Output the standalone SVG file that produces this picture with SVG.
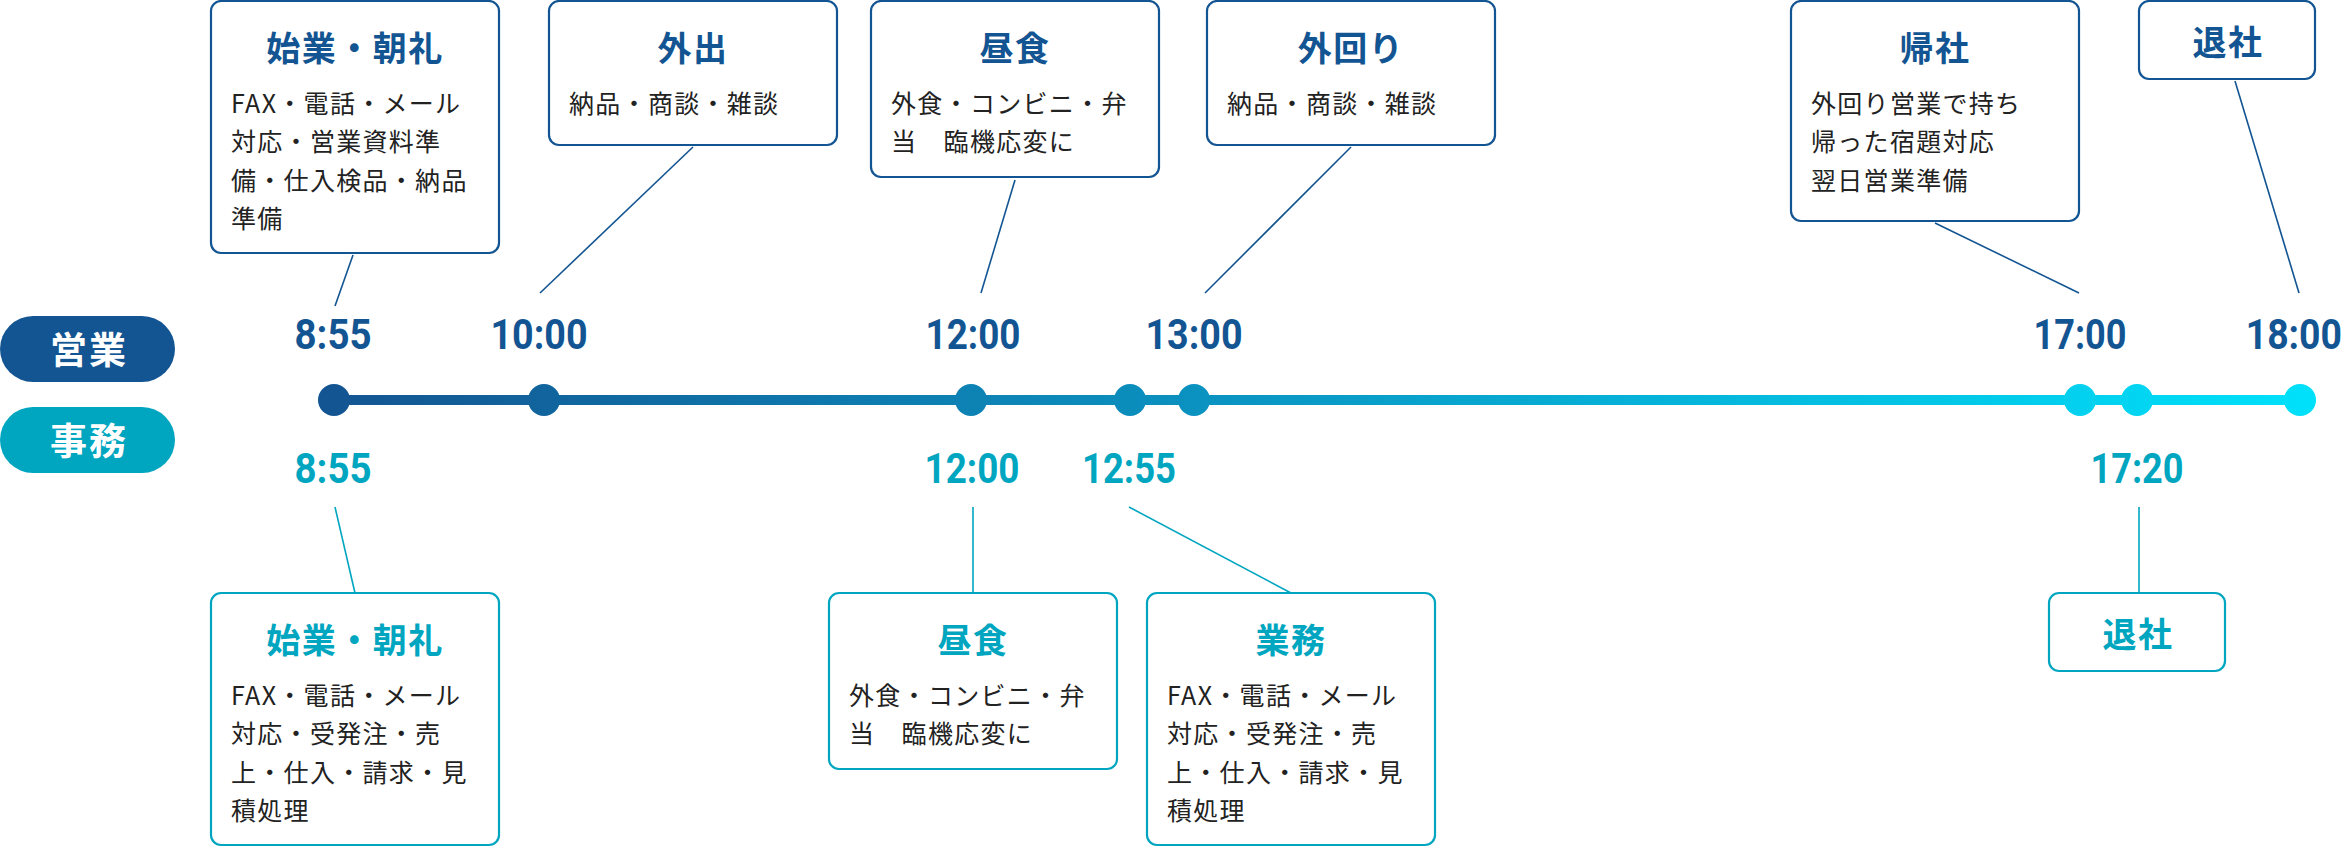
<svg xmlns="http://www.w3.org/2000/svg" width="2348" height="850" viewBox="0 0 2348 850">
<defs>
<linearGradient id="tl" gradientUnits="userSpaceOnUse" x1="334" y1="0" x2="2300" y2="0">
<stop offset="0" stop-color="#135592"/>
<stop offset="1" stop-color="#00e0fa"/>
</linearGradient>
<style>
.bs{fill:#fff;stroke:#135592;stroke-width:2.2}
.bj{fill:#fff;stroke:#00a6c0;stroke-width:2.2}
.ts{font-family:"Noto Sans CJK JP",sans-serif;font-weight:700;font-size:34px;letter-spacing:1.5px;fill:#135592;text-anchor:middle}
.tj{font-family:"Noto Sans CJK JP",sans-serif;font-weight:700;font-size:34px;letter-spacing:1.5px;fill:#00a6c0;text-anchor:middle}
.body{font-family:"Noto Sans CJK JP",sans-serif;font-size:25px;letter-spacing:1.3px;fill:#222}
.tm{font-family:Roboto,"Liberation Sans",sans-serif;font-weight:700;font-size:42px;text-anchor:middle}
.tme{font-family:Roboto,"Liberation Sans",sans-serif;font-weight:700;font-size:42px;text-anchor:end}
.ms{fill:#135592}
.mj{fill:#00a6c0}
.cs{stroke:#135592;stroke-width:1.6;fill:none}
.cj{stroke:#00a6c0;stroke-width:1.6;fill:none}
.pill{font-family:"Noto Sans CJK JP",sans-serif;font-weight:700;font-size:37px;letter-spacing:2px;fill:#fff;text-anchor:middle}
</style>
</defs>

<g id="legend">
<g id="legend-eigyo"><rect x="0" y="316" width="175" height="66" rx="33" fill="#135592"/><text class="pill" x="89" y="364">営業</text></g>
<g id="legend-jimu"><rect x="0" y="407" width="175" height="66" rx="33" fill="#00a6c0"/><text class="pill" x="89" y="455">事務</text></g>
</g>

<g id="connectors">
<line class="cs" x1="353" y1="255" x2="335" y2="306"/>
<line class="cs" x1="693" y1="147" x2="540" y2="293"/>
<line class="cs" x1="1015" y1="180" x2="981" y2="293"/>
<line class="cs" x1="1351" y1="147" x2="1205" y2="293"/>
<line class="cs" x1="1935" y1="223" x2="2079" y2="293"/>
<line class="cs" x1="2235" y1="81" x2="2299" y2="293"/>
<line class="cj" x1="335" y1="507" x2="355" y2="593"/>
<line class="cj" x1="973" y1="507" x2="973" y2="593"/>
<line class="cj" x1="1129" y1="507" x2="1291" y2="593"/>
<line class="cj" x1="2139" y1="507" x2="2139" y2="593"/>
</g>

<g id="timeline">
<line x1="334" y1="400" x2="2300" y2="400" stroke="url(#tl)" stroke-width="10"/>
<g fill="url(#tl)">
<circle cx="334" cy="400" r="16"/>
<circle cx="544" cy="400" r="16"/>
<circle cx="971" cy="400" r="16"/>
<circle cx="1130" cy="400" r="16"/>
<circle cx="1194" cy="400" r="16"/>
<circle cx="2080" cy="400" r="16"/>
<circle cx="2137" cy="400" r="16"/>
<circle cx="2300" cy="400" r="16"/>
</g>
</g>

<g id="times">
<text class="tm ms" x="333" y="349" textLength="77" lengthAdjust="spacingAndGlyphs">8:55</text>
<text class="tm ms" x="539" y="349" textLength="97" lengthAdjust="spacingAndGlyphs">10:00</text>
<text class="tm ms" x="973" y="349" textLength="95" lengthAdjust="spacingAndGlyphs">12:00</text>
<text class="tm ms" x="1194" y="349" textLength="97" lengthAdjust="spacingAndGlyphs">13:00</text>
<text class="tm ms" x="2080" y="349" textLength="93" lengthAdjust="spacingAndGlyphs">17:00</text>
<text class="tme ms" transform="translate(2342,349) scale(0.89,1)" x="0" y="0">18:00</text>
<text class="tm mj" x="333" y="483" textLength="77" lengthAdjust="spacingAndGlyphs">8:55</text>
<text class="tm mj" x="972" y="483" textLength="95" lengthAdjust="spacingAndGlyphs">12:00</text>
<text class="tm mj" x="1129" y="483" textLength="94" lengthAdjust="spacingAndGlyphs">12:55</text>
<text class="tm mj" x="2137" y="483" textLength="93" lengthAdjust="spacingAndGlyphs">17:20</text>
</g>

<g id="s-start">
<rect class="bs" x="211" y="1" width="288" height="252" rx="10"/>
<text class="ts" x="355" y="61">始業・朝礼</text>
<text class="body" x="231" y="113">FAX・電話・メール</text>
<text class="body" x="231" y="151">対応・営業資料準</text>
<text class="body" x="231" y="190">備・仕入検品・納品</text>
<text class="body" x="231" y="228">準備</text>
</g>
<g id="s-out">
<rect class="bs" x="549" y="1" width="288" height="144" rx="10"/>
<text class="ts" x="693" y="61">外出</text>
<text class="body" x="569" y="113">納品・商談・雑談</text>
</g>
<g id="s-lunch">
<rect class="bs" x="871" y="1" width="288" height="176" rx="10"/>
<text class="ts" x="1015" y="61">昼食</text>
<text class="body" x="891" y="113">外食・コンビニ・弁</text>
<text class="body" x="891" y="151">当　臨機応変に</text>
</g>
<g id="s-round">
<rect class="bs" x="1207" y="1" width="288" height="144" rx="10"/>
<text class="ts" x="1351" y="61">外回り</text>
<text class="body" x="1227" y="113">納品・商談・雑談</text>
</g>
<g id="s-return">
<rect class="bs" x="1791" y="1" width="288" height="220" rx="10"/>
<text class="ts" x="1935" y="61">帰社</text>
<text class="body" x="1811" y="113">外回り営業で持ち</text>
<text class="body" x="1811" y="151">帰った宿題対応</text>
<text class="body" x="1811" y="190">翌日営業準備</text>
</g>
<g id="s-leave">
<rect class="bs" x="2139" y="1" width="176" height="78" rx="10"/>
<text class="ts" x="2228" y="55">退社</text>
</g>

<g id="j-start">
<rect class="bj" x="211" y="593" width="288" height="252" rx="10"/>
<text class="tj" x="355" y="653">始業・朝礼</text>
<text class="body" x="231" y="705">FAX・電話・メール</text>
<text class="body" x="231" y="743">対応・受発注・売</text>
<text class="body" x="231" y="782">上・仕入・請求・見</text>
<text class="body" x="231" y="820">積処理</text>
</g>
<g id="j-lunch">
<rect class="bj" x="829" y="593" width="288" height="176" rx="10"/>
<text class="tj" x="973" y="653">昼食</text>
<text class="body" x="849" y="705">外食・コンビニ・弁</text>
<text class="body" x="849" y="743">当　臨機応変に</text>
</g>
<g id="j-work">
<rect class="bj" x="1147" y="593" width="288" height="252" rx="10"/>
<text class="tj" x="1291" y="653">業務</text>
<text class="body" x="1167" y="705">FAX・電話・メール</text>
<text class="body" x="1167" y="743">対応・受発注・売</text>
<text class="body" x="1167" y="782">上・仕入・請求・見</text>
<text class="body" x="1167" y="820">積処理</text>
</g>
<g id="j-leave">
<rect class="bj" x="2049" y="593" width="176" height="78" rx="10"/>
<text class="tj" x="2138" y="647">退社</text>
</g>
</svg>
